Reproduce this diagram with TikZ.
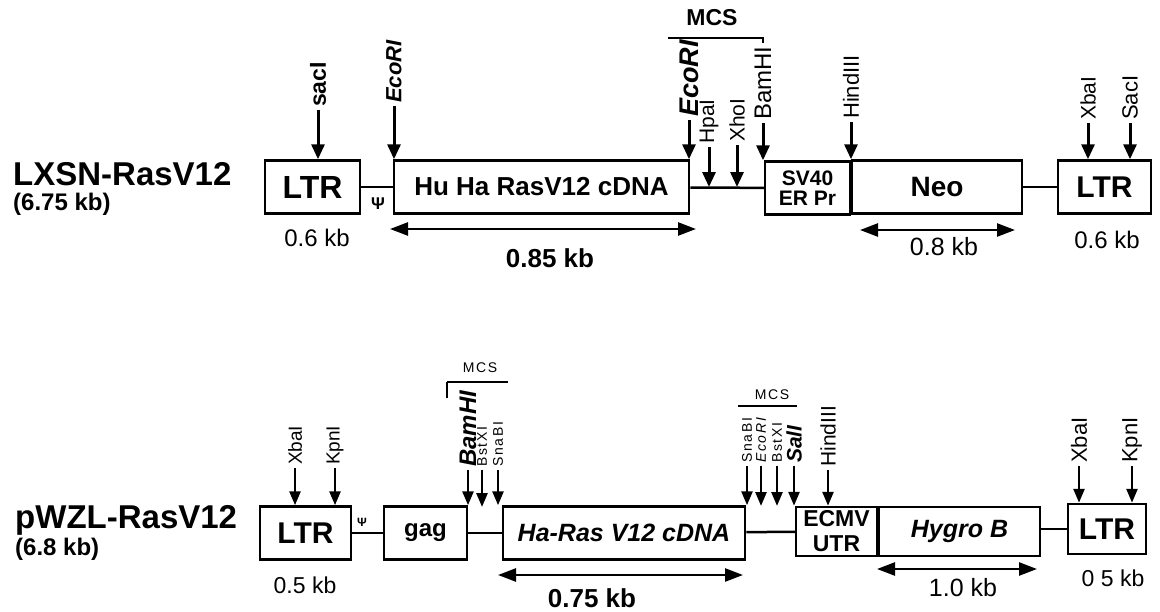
\documentclass[tikz,border=0pt]{standalone}
\usepackage{fontspec}
\setmainfont{Liberation Sans}
\newfontfamily\spacedsans[LetterSpace=12]{Liberation Sans}
\usetikzlibrary{arrows.meta}
\newcommand{\fsz}[1]{\fontsize{#1}{#1}\selectfont}
\tikzset{
  seg/.style={draw,line width=2.5pt,inner sep=0pt,minimum height=53pt},
  link/.style={line width=2.5pt},
  cut/.style={line width=3pt,-{Triangle[width=13pt,length=15pt]}},
  smallcut/.style={line width=2.6pt,-{Triangle[width=11pt,length=14pt]}},
  sizebar/.style={line width=2.5pt,{Triangle[width=13pt,length=18pt]}-{Triangle[width=13pt,length=18pt]}},
  site/.style={rotate=90,anchor=west,inner sep=3pt},
  tag/.style={inner sep=0pt},
}

\begin{document}
\begin{tikzpicture}[x=1pt,y=-1pt]
  \useasboundingbox (0,0) rectangle (1160,611);

  % LXSN-RasV12
  \node[tag,anchor=base west,font=\fsz{33}\bfseries] (nameA) at (13,185) {LXSN-RasV12};
  \node[tag,anchor=base west,font=\fsz{24}\bfseries] (sizeA) at (13,210) {(6.75 kb)};

  \node[seg,minimum width=95pt,font=\fsz{32}\bfseries] (ltrA) at (312.5,187) {LTR};
  \node[seg,minimum width=295pt,font=\fsz{26}\bfseries] (rasA) at (541.5,187) {Hu Ha RasV12 cDNA};
  \node[seg,minimum width=85pt,align=center,font=\fontsize{21}{20}\selectfont\bfseries] (svA) at (807.5,188) {SV40\\ER Pr};
  \node[seg,minimum width=170pt,font=\fsz{28}\bfseries] (neoA) at (937,187) {Neo};
  \node[seg,minimum width=93pt,font=\fsz{30}\bfseries] (ltrB) at (1104.5,187) {LTR};
  \draw[link] (ltrA) -- (rasA);
  \draw[link] (rasA) -- (svA);
  \draw[link] (neoA) -- (ltrB);
  \node[tag,font=\fsz{17}\bfseries] (psiA) at (378,204) {Ψ};

  \coordinate (hpaT) at (709,187);
  \coordinate (xhoT) at (737,187);
  \node[site,font=\fsz{23}\bfseries] (sacA) at (318,110) {sacI};
  \node[site,font=\fsz{22}\bfseries\itshape] (ecoA) at (394,106) {EcoRI};
  \node[site,font=\fsz{27}\bfseries\itshape] (ecoB) at (689,120) {EcoRI};
  \node[site,font=\fsz{21}] (hpaA) at (709,147) {HpaI};
  \node[site,font=\fsz{21}] (xhoA) at (737,145) {XhoI};
  \node[site,font=\fsz{24}] (bamA) at (763,123) {BamHI};
  \node[site,font=\fsz{22}] (hindA) at (851,122) {HindIII};
  \node[site,font=\fsz{21}] (xbaA) at (1088,123) {XbaI};
  \node[site,font=\fsz{22}] (sacB) at (1130,123) {SacI};
  \foreach \s/\t in {sacA/ltrA.north,ecoA/rasA.north,ecoB/rasA.north,hpaA/hpaT,xhoA/xhoT,
                     bamA/svA.north,hindA/neoA.north,xbaA/ltrB.north,sacB/ltrB.north}
    \draw[cut] (\s.west) -- (\s.west |- \t);

  \node[tag,font=\fsz{23}\bfseries] (mcsA) at (712,18) {MCS};
  \coordinate (mcsA1) at (668,38);
  \coordinate (mcsA2) at (763,38);
  \draw[line width=1.6pt] (mcsA1) -- (mcsA2) -- ++(0,5);

  \coordinate (barA1) at (390,229);
  \coordinate (barA2) at (696,229);
  \draw[sizebar] (barA1) -- (barA2);
  \node[tag,font=\fsz{26}\bfseries] (kbA) at (550,258) {0.85 kb};
  \coordinate (barB1) at (860,230);
  \coordinate (barB2) at (1015,230);
  \draw[sizebar] (barB1) -- (barB2);
  \node[tag,font=\fsz{25}] (kbB) at (944,247) {0.8 kb};
  \node[tag,font=\fsz{24}] (kbC) at (317,238) {0.6 kb};
  \node[tag,font=\fsz{24}] (kbD) at (1107,240) {0.6 kb};

  % pWZL-RasV12
  \node[tag,anchor=base west,font=\fsz{33}\bfseries] (nameB) at (15,528) {pWZL-RasV12};
  \node[tag,anchor=base west,font=\fsz{24}\bfseries] (sizeB) at (15,555) {(6.8 kb)};

  \node[seg,minimum width=91pt,font=\fsz{30}\bfseries] (ltrC) at (305.5,533) {LTR};
  \node[seg,minimum width=83pt,font=\fsz{24}\bfseries] (gagA) at (425.5,533) {gag};
  \node[seg,minimum width=242pt,font=\fsz{25}\bfseries\itshape] (rasB) at (624,533) {Ha-Ras V12 cDNA};
  \node[seg,minimum width=81pt,minimum height=49pt,align=center,font=\fontsize{23}{25}\selectfont\bfseries] (ecmvA) at (836.5,531.5) {ECMV\\UTR};
  \node[seg,minimum width=161pt,minimum height=49pt,font=\fsz{25}\bfseries\itshape] (hygA) at (959.5,531.5) {Hygro B};
  \node[seg,minimum width=78pt,minimum height=50pt,font=\fsz{30}\bfseries] (ltrD) at (1107,529) {LTR};
  \draw[link] (ltrC) -- (gagA);
  \draw[link] (gagA) -- (rasB);
  \draw[link] (rasB) -- (ecmvA);
  \draw[link] (hygA.east |- ltrD) -- (ltrD);
  \node[tag,font=\fsz{12}\bfseries] (psiB) at (362,522) {Ψ};

  \coordinate (bstT) at (482,507);
  \coordinate (ecoT) at (761,506);
  \coordinate (bstU) at (777,506);
  \node[site,font=\fsz{19}] (xbaB) at (295,468) {XbaI};
  \node[site,font=\fsz{19}] (kpnA) at (335,468) {KpnI};
  \node[site,font=\fsz{24}\bfseries\itshape] (bamB) at (468,470) {BamHI};
  \node[site,font=\spacedsans\fsz{14}] (bstA) at (482,470) {BstXI};
  \node[site,font=\spacedsans\fsz{14}] (snaA) at (498,470) {SnaBI};
  \node[site,font=\spacedsans\fsz{14}] (snaB) at (747,466) {SnaBI};
  \node[site,font=\spacedsans\fsz{14}\itshape] (ecoC) at (761,466) {EcoRI};
  \node[site,font=\spacedsans\fsz{14}] (bstB) at (777,466) {BstXI};
  \node[site,font=\fsz{21}\bfseries\itshape] (salA) at (794,466) {SalI};
  \node[site,font=\fsz{21}] (hindB) at (828,470) {HindIII};
  \node[site,font=\fsz{22}] (xbaC) at (1079,466) {XbaI};
  \node[site,font=\fsz{22}] (kpnB) at (1132,466) {KpnI};
  \foreach \s/\t in {xbaB/ltrC.north,kpnA/ltrC.north,bamB/gagA.north,bstA/bstT,snaA/rasB.north,
                     snaB/rasB.north,ecoC/ecoT,bstB/bstU,salA/ecmvA.north,hindB/ecmvA.north,
                     xbaC/ltrD.north,kpnB/ltrD.north}
    \draw[smallcut] (\s.west) -- (\s.west |- \t);

  \node[tag,font=\spacedsans\fsz{14}] (mcsB) at (480,368) {MCS};
  \coordinate (mcsB1) at (447,382);
  \coordinate (mcsB2) at (508,382);
  \draw[line width=1.4pt] (mcsB1) -- (mcsB2);
  \draw[line width=1.4pt] (mcsB1) -- ++(0,16);
  \node[tag,font=\spacedsans\fsz{14}] (mcsC) at (772,395) {MCS};
  \coordinate (mcsC1) at (738,406);
  \coordinate (mcsC2) at (797,406);
  \draw[line width=1.4pt] (mcsC1) -- (mcsC2);

  \coordinate (barC1) at (498,575);
  \coordinate (barC2) at (743,575);
  \draw[sizebar] (barC1) -- (barC2);
  \node[tag,font=\fsz{26}\bfseries] (kbE) at (592,598) {0.75 kb};
  \coordinate (barD1) at (877,569);
  \coordinate (barD2) at (1037,569);
  \draw[sizebar] (barD1) -- (barD2);
  \node[tag,font=\fsz{25}] (kbF) at (963,588) {1.0 kb};
  \node[tag,font=\fsz{23}] (kbG) at (305,585) {0.5 kb};
  \node[tag,font=\fsz{23}] (kbH) at (1113,578) {0 5 kb};
\end{tikzpicture}
\end{document}
